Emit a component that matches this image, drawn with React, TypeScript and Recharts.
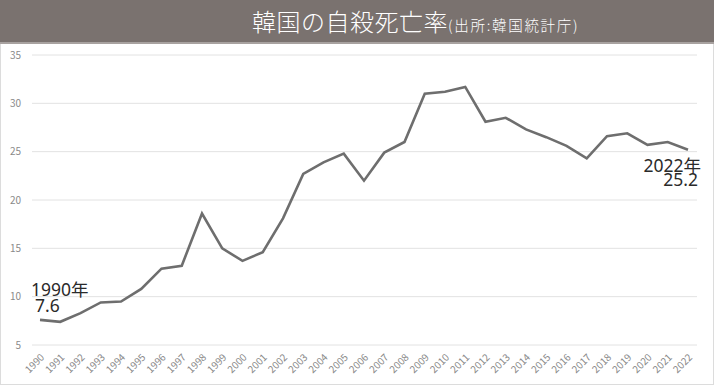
import React from "react";
import { LineChart, Line, XAxis, YAxis, CartesianGrid, LabelList } from "recharts";

const years = [
  "1990","1991","1992","1993","1994","1995","1996","1997","1998","1999",
  "2000","2001","2002","2003","2004","2005","2006","2007","2008","2009",
  "2010","2011","2012","2013","2014","2015","2016","2017","2018","2019",
  "2020","2021","2022",
];
const rates = [
  7.6, 7.4, 8.3, 9.4, 9.5, 10.8, 12.9, 13.2, 18.6, 15.0,
  13.7, 14.6, 18.1, 22.7, 23.9, 24.8, 22.0, 24.9, 26.0, 31.0,
  31.2, 31.7, 28.1, 28.5, 27.3, 26.5, 25.6, 24.3, 26.6, 26.9,
  25.7, 26.0, 25.2,
];
const yTicks = [5, 10, 15, 20, 25, 30, 35];

const data = years.map((y, i) => ({ year: y, rate: rates[i] }));

const FONT = "'Noto Sans CJK JP', 'Noto Sans', sans-serif";
const NUMFONT = "'Noto Sans', 'Noto Sans CJK JP', sans-serif";

const renderEndLabel = (props: any) => {
  const { x, y, index, value } = props;
  if (index === 0) {
    return (
      <g fontFamily={NUMFONT} fontSize={17.5} fill="#2a2a2a">
        <text x={x - 9} y={y - 24} textAnchor="start">{`${years[0]}年`}</text>
        <text x={x - 5} y={y - 8} textAnchor="start">{value}</text>
      </g>
    );
  }
  if (index === years.length - 1) {
    return (
      <g fontFamily={NUMFONT} fontSize={17.5} fill="#2a2a2a">
        <text x={x + 13} y={y + 22} textAnchor="end">{`${years[years.length - 1]}年`}</text>
        <text x={x + 10} y={y + 36} textAnchor="end">{value}</text>
      </g>
    );
  }
  return null;
};

export default function App() {
  return (
    <div
      style={{
        position: "absolute",
        left: 0,
        top: 0,
        width: 714,
        height: 386,
        background: "#ffffff",
        fontFamily: FONT,
        overflow: "hidden",
      }}
    >
      <div
        style={{
          position: "absolute",
          left: 0,
          top: 44,
          width: 712,
          height: 340,
          border: "1px solid #dcdcdc",
          borderTop: "none",
        }}
      />
      <div
        style={{
          position: "absolute",
          left: 0,
          top: 0,
          width: 714,
          height: 44,
          background: "#7a726f",
          borderBottom: "2px solid #a8a2a0",
          boxSizing: "border-box",
        }}
      >
        <div
          style={{
            position: "absolute",
            left: 252,
            top: 6,
            whiteSpace: "nowrap",
            color: "#ffffff",
            lineHeight: "30px",
            fontWeight: 300,
          }}
        >
          <span style={{ fontSize: 24, letterSpacing: 0.5 }}>韓国の自殺死亡率</span>
          <span style={{ fontSize: 14.5, letterSpacing: 1.7 }}>(出所:韓国統計庁)</span>
        </div>
      </div>
      <div style={{ position: "absolute", left: 0, top: 0 }}>
        <LineChart
          width={714}
          height={386}
          data={data}
          margin={{ top: 55, right: 17, left: 0, bottom: 0 }}
        >
          <CartesianGrid vertical={false} stroke="#e2e2e2" strokeWidth={1} />
          <XAxis
            dataKey="year"
            interval={0}
            height={41}
            axisLine={false}
            tickLine={false}
            padding={{ left: 8, right: 9 }}
            angle={-45}
            textAnchor="end"
            tick={{ fill: "#8a8a8a", fontSize: 10, fontFamily: FONT, textAnchor: "end" }}
          />
          <YAxis
            domain={[5, 35]}
            ticks={yTicks}
            width={32}
            axisLine={false}
            tickLine={false}
            tickSize={0}
            tickMargin={11}
            tick={{ fill: "#8a8a8a", fontSize: 10, fontFamily: FONT }}
          />
          <Line
            type="linear"
            dataKey="rate"
            stroke="#6e6e6e"
            strokeWidth={2.6}
            dot={false}
            isAnimationActive={false}
          >
            <LabelList dataKey="rate" content={renderEndLabel} />
          </Line>
        </LineChart>
      </div>
    </div>
  );
}
